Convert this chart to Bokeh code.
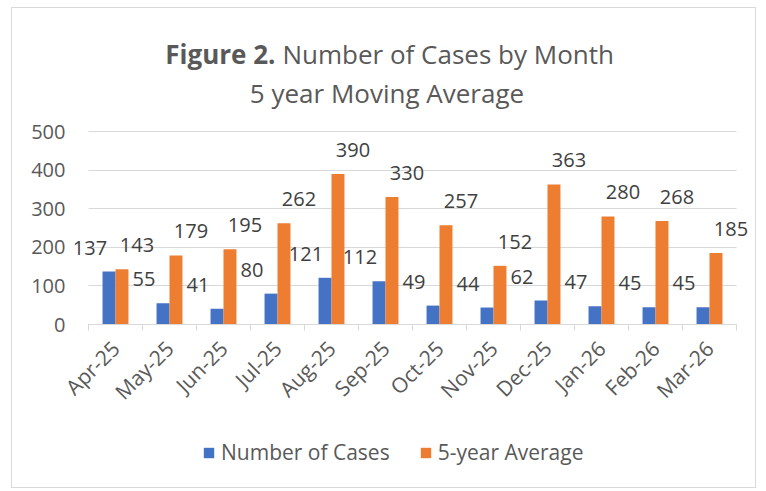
import numpy as np
from math import pi
from bokeh.plotting import figure
from bokeh.models import (ColumnDataSource, Range1d, FixedTicker, LabelSet, Label,
                          Legend, LegendItem)
from bokeh.core.properties import value
from bokeh.embed import file_html
from bokeh.resources import INLINE

months = ["Apr-25", "May-25", "Jun-25", "Jul-25", "Aug-25", "Sep-25",
          "Oct-25", "Nov-25", "Dec-25", "Jan-26", "Feb-26", "Mar-26"]
cases = [137, 55, 41, 80, 121, 112, 49, 44, 62, 47, 45, 45]
avg5 = [143, 179, 195, 262, 390, 330, 257, 152, 363, 280, 268, 185]
y_ticks = [0, 100, 200, 300, 400, 500]

FONT = "Open Sans"
GRAY = "#595959"
GRID = "#D9D9D9"
BLUE = "#4472C4"
ORANGE = "#ED7D31"

n = len(months)
idx = np.arange(n)
src = ColumnDataSource(dict(
    xc=idx + 0.5 - 0.12, xa=idx + 0.5 + 0.12,
    cases=cases, avg=avg5,
    cl=[str(v) for v in cases], al=[str(v) for v in avg5]))

# The frame covers the whole chart so annotations are never clipped;
# axis line and grid lines are bounded to the real plot area.
CAT_PX = 54.0            # pixels per category
Y_PX = 193.0 / 500.0     # pixels per unit
x_lo = -20 / CAT_PX
x_hi = n + 16 / CAT_PX
y_hi = 316 / Y_PX
y_lo = -165 / Y_PX

p = figure(width=745, height=481, output_backend="svg", toolbar_location=None,
           x_range=Range1d(x_lo, x_hi), y_range=Range1d(y_lo, y_hi),
           min_border_left=56, min_border_right=5, min_border_top=0,
           min_border_bottom=0)
p.margin = (7, 0, 0, 11)
p.styles = {"border": "1px solid #D9D9D9"}
p.outline_line_color = None
p.background_fill_color = "white"
p.border_fill_color = "white"

g = p.ygrid[0]
if hasattr(g, "cross_bounds"):
    g.cross_bounds = (0, n)
    g.bounds = (0, 500)
    g.grid_line_color = GRID
    g.ticker = FixedTicker(ticks=y_ticks)
else:
    g.visible = False
    p.segment(x0=[0] * len(y_ticks), x1=[n] * len(y_ticks), y0=y_ticks, y1=y_ticks,
              line_color=GRID, line_width=1)
p.xgrid.visible = False

r1 = p.vbar(x="xc", top="cases", width=0.24, source=src, color=BLUE, line_color=None)
r2 = p.vbar(x="xa", top="avg", width=0.24, source=src, color=ORANGE, line_color=None)

# data labels
for col, top, lab, off in (("xc", "cases", "cl", -19), ("xa", "avg", "al", 15)):
    ls = LabelSet(x=col, y=top, text=lab, source=src, x_offset=off, y_offset=24,
                  text_align="center", text_baseline="middle",
                  text_font=value(FONT), text_font_size=value("20px"),
                  text_color="#404040")
    p.add_layout(ls)

# axes
p.yaxis.ticker = FixedTicker(ticks=y_ticks)
p.yaxis.bounds = (0, 500)
p.yaxis.axis_line_color = None
p.yaxis.major_tick_line_color = None
p.yaxis.major_tick_out = 0
p.yaxis.minor_tick_line_color = None
p.yaxis.major_label_standoff = 3
p.yaxis.major_label_text_font = FONT
p.yaxis.major_label_text_font_size = "20px"
p.yaxis.major_label_text_color = GRAY

xa = p.xaxis[0]
xa.fixed_location = 0
xa.ticker = FixedTicker(ticks=list(idx + 0.5), minor_ticks=list(range(n + 1)))
xa.major_label_overrides = {float(i + 0.5): m for i, m in enumerate(months)}
xa.bounds = (0, n)
xa.axis_line_color = GRID
xa.major_tick_line_color = None
xa.major_tick_out = 0
xa.major_tick_in = 0
xa.minor_tick_line_color = GRID
xa.minor_tick_out = 6
xa.minor_tick_in = 0
xa.major_label_orientation = pi / 4
xa.major_label_standoff = 14
xa.major_label_text_font = FONT
xa.major_label_text_font_size = "21px"
xa.major_label_text_color = GRAY

# title (screen units relative to frame bottom-left)
p.add_layout(Label(x=207, y=436, x_units="screen", y_units="screen", text="Figure 2.",
                   text_align="right", text_baseline="alphabetic", text_font=FONT,
                   text_font_style="bold", text_font_size="26px", text_color=GRAY))
p.add_layout(Label(x=214, y=436, x_units="screen", y_units="screen",
                   text="Number of Cases by Month",
                   text_align="left", text_baseline="alphabetic", text_font=FONT,
                   text_font_size="26px", text_color=GRAY))
p.add_layout(Label(x=318.5, y=397, x_units="screen", y_units="screen",
                   text="5 year Moving Average",
                   text_align="center", text_baseline="alphabetic", text_font=FONT,
                   text_font_size="26px", text_color=GRAY))

legend = Legend(items=[LegendItem(label="Number of Cases", renderers=[r1]),
                       LegendItem(label="5-year Average", renderers=[r2])],
                orientation="horizontal", location=(134, 23),
                glyph_width=13, glyph_height=13, label_standoff=6, spacing=29,
                padding=0, margin=0, border_line_color=None,
                background_fill_alpha=0,
                label_text_font=FONT, label_text_font_size="21px",
                label_text_color=GRAY)
p.add_layout(legend, "center")

open("out.html", "w").write(file_html(p, INLINE))
